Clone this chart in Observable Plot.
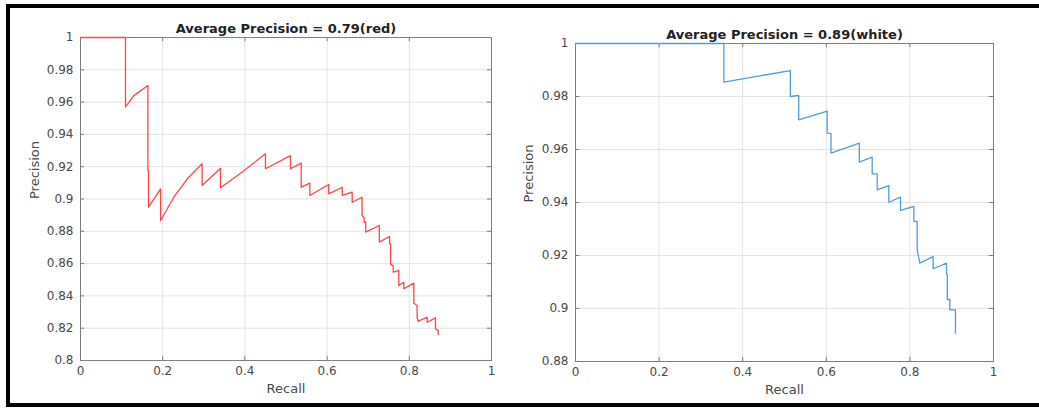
<!DOCTYPE html>
<html><head><meta charset="utf-8">
<script src="https://cdn.jsdelivr.net/npm/d3@7"></script>
<script src="https://cdn.jsdelivr.net/npm/@observablehq/plot@0.6"></script>
<style>
body{margin:0;background:#fff;}
#wrap{position:relative;width:1039px;height:411px;overflow:hidden;background:#fff;}
#border{position:absolute;left:6px;top:4px;width:1100px;height:403px;box-sizing:border-box;border:4px solid #000;border-right:none;}
.panel{position:absolute;top:0;}
</style></head><body>
<div id="wrap"><div id="border"></div><div id="p1" class="panel" style="left:0px"></div><div id="p2" class="panel" style="left:520px"></div></div>
<script>
// Left chart (red)
const redTitle = "Average Precision = 0.79(red)";
const redRecall = [0,0.1095,0.1095,0.130,0.164,0.164,0.1655,0.1655,0.195,0.195,0.227,0.260,0.296,0.296,0.3406,0.3406,0.393,0.450,0.450,0.511,0.511,0.537,0.537,0.558,0.558,0.604,0.604,0.637,0.637,0.661,0.661,0.685,0.685,0.690,0.690,0.694,0.694,0.727,0.727,0.752,0.752,0.7545,0.7545,0.7608,0.7608,0.7745,0.7745,0.7867,0.7867,0.811,0.811,0.819,0.819,0.8215,0.8435,0.8435,0.8637,0.8637,0.8703,0.8703];
const redPrecision = [1,1,0.957,0.964,0.9703,0.9176,0.9176,0.8950,0.9063,0.8867,0.9011,0.9125,0.9218,0.9084,0.919,0.907,0.9166,0.928,0.9187,0.9269,0.9187,0.9222,0.9073,0.9098,0.9022,0.909,0.9032,0.9073,0.9022,0.9042,0.898,0.9011,0.8898,0.8885,0.8856,0.8856,0.8795,0.8836,0.8733,0.8768,0.8723,0.8723,0.8595,0.8588,0.8547,0.8557,0.8464,0.8485,0.8444,0.8479,0.8355,0.834,0.8268,0.8243,0.8268,0.8237,0.8264,0.8196,0.8186,0.8161];
const leftYTicks = [0.8,0.82,0.84,0.86,0.88,0.9,0.92,0.94,0.96,0.98,1];

// Right chart (blue)
const blueTitle = "Average Precision = 0.89(white)";
const blueRecall = [0,0.355,0.355,0.514,0.514,0.534,0.534,0.602,0.602,0.6112,0.6112,0.679,0.679,0.7098,0.7098,0.7218,0.7218,0.7496,0.7496,0.7775,0.7775,0.8094,0.8094,0.8174,0.8174,0.8237,0.8557,0.8557,0.8876,0.8876,0.8895,0.8895,0.8955,0.8955,0.909,0.909];
const bluePrecision = [1,1,0.9854,0.9898,0.980,0.9804,0.9712,0.9745,0.9662,0.966,0.9586,0.9624,0.9552,0.9571,0.9508,0.9508,0.9448,0.9464,0.9401,0.942,0.937,0.9385,0.9329,0.9329,0.9222,0.9171,0.9196,0.915,0.9171,0.9128,0.9128,0.9034,0.9034,0.8995,0.8995,0.8907];
const rightYTicks = [0.88,0.9,0.92,0.94,0.96,0.98,1];

const xTicks = [0,0.2,0.4,0.6,0.8,1];
const xLabel = "Recall", yLabel = "Precision";

const fmt = d => String(+d.toFixed(2));

function chart({recall, precision, color, yTicks, title, width, ml, mr, mt, mb, yLabelDx}) {
  const data = recall.map((r, i) => ({r, p: precision[i]}));
  const y0 = yTicks[0], y1 = yTicks[yTicks.length - 1];
  const tickLenY = (y1 - y0) * 0.013;
  return Plot.plot({
    width, height: 411,
    marginLeft: ml, marginRight: mr, marginTop: mt, marginBottom: mb,
    x: {domain: [0, 1]},
    y: {domain: [y0, y1]},
    style: {fontFamily: "DejaVu Sans, sans-serif", fontSize: "12px", color: "#4a4a4a", background: "transparent"},
    marks: [
      Plot.gridX(xTicks, {stroke: "#e3e3e3", strokeOpacity: 1}),
      Plot.gridY(yTicks, {stroke: "#e3e3e3", strokeOpacity: 1}),
      Plot.ruleY(yTicks, {x1: 0, x2: 0.01, stroke: "#7f7f7f"}),
      Plot.ruleY(yTicks, {x1: 0.99, x2: 1, stroke: "#7f7f7f"}),
      Plot.ruleX(xTicks, {y1: y0, y2: y0 + tickLenY, stroke: "#7f7f7f"}),
      Plot.ruleX(xTicks, {y1: y1 - tickLenY, y2: y1, stroke: "#7f7f7f"}),
      Plot.frame({stroke: "#7f7f7f"}),
      Plot.axisX(xTicks, {tickSize: 0, tickPadding: 6, tickFormat: fmt, label: null, fill: "#4a4a4a"}),
      Plot.axisY(yTicks, {tickSize: 0, tickPadding: 7, tickFormat: fmt, label: null, fill: "#4a4a4a"}),
      Plot.line(data, {x: "r", y: "p", stroke: color, strokeWidth: 1.3}),
      Plot.text([title], {frameAnchor: "top", lineAnchor: "bottom", dy: -5, fontWeight: "bold", fontSize: 13, fill: "#222"}),
      Plot.text([xLabel], {frameAnchor: "bottom", dy: 32, fontSize: 13, fill: "#4a4a4a"}),
      Plot.text([yLabel], {frameAnchor: "left", rotate: -90, dx: yLabelDx, fontSize: 13, fill: "#4a4a4a"})
    ]
  });
}

document.getElementById("p1").append(chart({
  recall: redRecall, precision: redPrecision, color: "#ff4545", yTicks: leftYTicks, title: redTitle,
  width: 510, ml: 80, mr: 19, mt: 37, mb: 51, yLabelDx: -46
}));
document.getElementById("p2").append(chart({
  recall: blueRecall, precision: bluePrecision, color: "#4f9ddb", yTicks: rightYTicks, title: blueTitle,
  width: 519, ml: 55, mr: 46, mt: 43, mb: 50, yLabelDx: -47
}));
</script>
</body></html>
